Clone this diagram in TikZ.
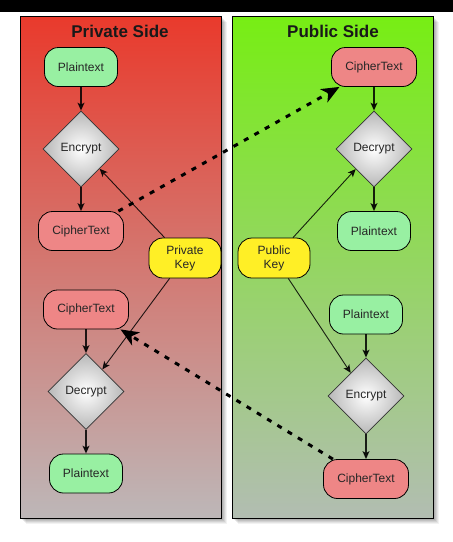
\documentclass[tikz,border=0pt]{standalone}
\usepackage{fontspec}
\setmainfont{Liberation Sans}
\usetikzlibrary{shapes.geometric,arrows.meta}
\definecolor{ptgreen}{HTML}{98F0A2}
\definecolor{ctpink}{HTML}{EE8686}
\definecolor{keyyel}{HTML}{FFEF26}
\definecolor{redtop}{HTML}{E93A2C}
\definecolor{redmid}{HTML}{DE6472}
\definecolor{redbot}{HTML}{BDB7B8}
\definecolor{grntop}{HTML}{77EE14}
\definecolor{grnmid}{HTML}{6FD86A}
\definecolor{grnbot}{HTML}{B2BDB2}
\begin{document}
\begin{tikzpicture}[x=1pt,y=-1pt,
  box/.style={draw=black, line width=0.8pt, rounded corners=14pt, minimum height=39pt,
    font=\fontsize{12}{14}\selectfont, text=black!85, align=center, inner sep=2pt},
  pt/.style={box, fill=ptgreen, minimum width=73pt},
  ct/.style={box, fill=ctpink, minimum width=85pt},
  keybox/.style={box, fill=keyyel, minimum width=72pt, minimum height=40pt},
  dia/.style={diamond, draw=black!80, line width=0.8pt, inner color=white, outer color=black!28,
    minimum width=76pt, minimum height=76pt, inner sep=0pt,
    font=\fontsize{12}{14}\selectfont, text=black!85},
  flow/.style={draw=black, opacity=0.85, line width=1.1pt, -{Stealth[length=8pt,width=7pt,inset=2pt]}},
  keyline/.style={draw=black, opacity=0.85, line width=0.9pt, -{Stealth[length=8pt,width=7pt,inset=2pt]}},
  xfer/.style={draw=black, line width=3pt, dash pattern=on 5pt off 7pt, -{Stealth[length=18pt,width=15pt,inset=5pt]}},
  title/.style={font=\fontsize{17}{20}\selectfont\bfseries, text=black!90},
  shadowbox/.style={fill=black}
]
\useasboundingbox (0,0) rectangle (453,542);
\fill[white] (0,0) rectangle (453,542);
\fill[black] (0,0) rectangle (453,12);
% shadows
\foreach \d/\op in {6/0.05,5/0.06,4/0.07,3/0.08,2/0.08} {
  \fill[shadowbox, opacity=\op] (20+\d,16+\d) rectangle (221+\d,518+\d);
  \fill[shadowbox, opacity=\op] (232+\d,16+\d) rectangle (433+\d,518+\d);
}
% panels
\shade[top color=redtop, middle color=redmid, bottom color=redbot] (20,16) rectangle (221,518);
\draw[black, line width=0.9pt] (20,16) rectangle (221,518);
\shade[top color=grntop, middle color=grnmid, bottom color=grnbot] (232,16) rectangle (433,518);
\draw[black, line width=0.9pt] (232,16) rectangle (433,518);
\node[title] (tL) at (120,31) {Private Side};
\node[title] (tR) at (333,31) {Public Side};
% left nodes
\node[pt] (ptL1) at (81,67) {Plaintext};
\node[dia] (encL) at (81,149) {Encrypt};
\node[ct] (ctL1) at (81,231) {CipherText};
\node[keybox] (pk) at (185,258) {Private\\Key};
\node[ct] (ctL2) at (86,309.5) {CipherText};
\node[dia] (decL) at (86,391.5) {Decrypt};
\node[pt] (ptL2) at (86,473.5) {Plaintext};
% right nodes
\node[ct] (ctR1) at (374,67) {CipherText};
\node[dia] (decR) at (374,149) {Decrypt};
\node[pt] (ptR1) at (374,231) {Plaintext};
\node[keybox] (pub) at (274,258) {Public\\Key};
\node[pt] (ptR2) at (366,314.5) {Plaintext};
\node[dia] (encR) at (366,396) {Encrypt};
\node[ct] (ctR2) at (366,479) {CipherText};
% flows
\draw[flow] (ptL1) -- (encL);
\draw[flow] (encL) -- (ctL1);
\draw[flow] (ctL2) -- (decL);
\draw[flow] (decL) -- (ptL2);
\draw[flow] (ctR1) -- (decR);
\draw[flow] (decR) -- (ptR1);
\draw[flow] (ptR2) -- (encR);
\draw[flow] (encR) -- (ctR2);
% keys
\draw[keyline] (pk.135) -- (encL);
\draw[keyline] (pk.233) -- (decL);
\draw[keyline] (pub.47) -- (decR);
\draw[keyline] (pub.305) -- (encR);
% transfers
\draw[xfer] (ctL1.28) -- (ctR1.210);
\draw[xfer] (ctR2.149) -- (ctL2.330);
\end{tikzpicture}
\end{document}
